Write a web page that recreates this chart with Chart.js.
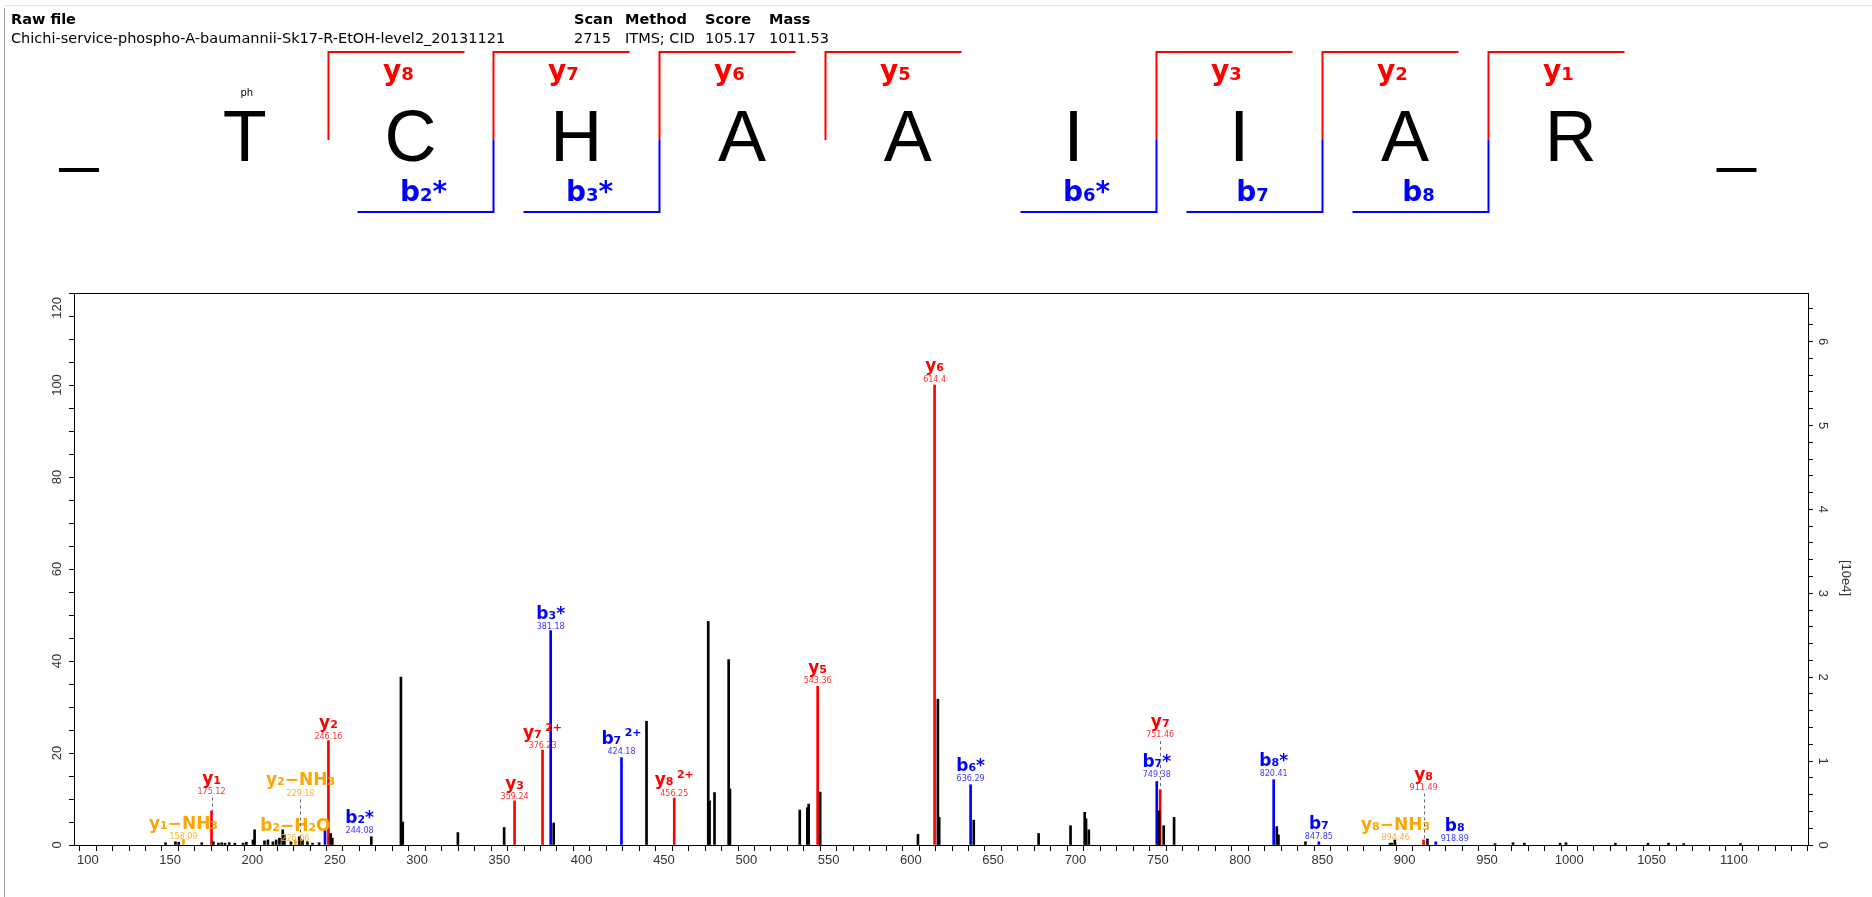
<!DOCTYPE html>
<html>
<head>
<meta charset="utf-8">
<script src="https://cdn.jsdelivr.net/npm/chart.js@4.4.0/dist/chart.umd.min.js"></script>
<style>
  html, body { margin: 0; padding: 0; background: #fff; overflow: hidden; }
  canvas { display: block; }
</style>
</head>
<body>
<canvas id="spectrum" width="1872" height="897"></canvas>
<script>
// header info
const headerNames = ['Scan', 'Method', 'Score', 'Mass']
const headerValues = ['2715', 'ITMS; CID', '105.17', '1011.53']
const rawFile = 'Chichi-service-phospho-A-baumannii-Sk17-R-EtOH-level2_20131121'

// peptide and the fragments that were found (cut k sits after residue k)
const residues = ['T', 'C', 'H', 'A', 'A', 'I', 'I', 'A', 'R']
const yCuts = ['y_8', 'y_7', 'y_6', 'y_5', '', 'y_3', 'y_2', 'y_1']
const bCuts = ['', 'b_2*', 'b_3*', '', '', 'b_6*', 'b_7', 'b_8']

// unassigned peaks (m/z, relative intensity %)
const otherMz = [147.2, 153.2, 155.2, 169.2, 176.3, 179.3, 181.3, 183.3, 185.9, 189.3, 194.3, 196.3, 200.3, 201.3,
  207.3, 209.4, 212.4, 214.4, 216.4, 218.4, 219.4, 223.4, 228.4, 230.4, 233.4, 236.5, 240.5, 247.5, 248.5,
  272.2, 290.2, 291.3, 324.8, 352.9, 383.0, 439.4, 476.9, 477.7, 480.7, 489.3, 490.1, 532.5, 537.1, 537.9,
  544.9, 604.3, 616.4, 617.2, 638.2, 677.6, 697.0, 705.6, 706.4, 708.1, 750.8, 753.6, 759.9, 822.3, 823.3,
  839.7, 891.1, 892.1, 894.0, 913.8, 954.9, 965.8, 972.7, 994.4, 998.0, 1028.0, 1047.8, 1060.3, 1069.5, 1104.0]
const otherInt = [0.5, 0.7, 0.6, 0.5, 0.7, 0.4, 0.5, 0.4, 0.5, 0.4, 0.4, 0.6, 1.1, 3.3,
  0.9, 1.1, 0.7, 1.1, 1.5, 3.3, 2.2, 0.7, 1.8, 1.1, 0.7, 0.4, 0.5, 2.5, 1.5,
  1.8, 36.5, 5.0, 2.7, 3.8, 4.8, 26.9, 48.6, 9.6, 11.4, 40.3, 12.2, 7.6, 8.1, 8.9,
  11.5, 2.3, 31.7, 6.0, 5.4, 2.5, 4.2, 7.1, 5.7, 3.3, 7.4, 4.2, 6.0, 4.0, 2.2,
  0.7, 0.4, 0.4, 1.1, 1.3, 0.3, 0.5, 0.4, 0.4, 0.5, 0.4, 0.4, 0.4, 0.3, 0.3]

// assigned peaks
const yMz = [175.12, 246.16, 359.24, 376.23, 456.25, 543.36, 614.4, 751.46, 911.49]
const yInt = [7.4, 22.7, 9.6, 20.6, 10.2, 34.5, 100, 12.0, 1.1]
const bMz = [244.08, 381.18, 424.18, 636.29, 749.38, 820.41, 847.85, 918.89]
const bInt = [3.2, 46.6, 19.0, 13.1, 13.8, 14.2, 0.7, 0.7]
const lossMz = [158.09, 226.06, 229.18, 894.46]
const lossInt = [1.2, 1.1, 1.5, 0.4]

// peak labels: name, m/z text, colour, peak m/z, label m/z, label height, dashed
const peakLabels = [
  ['y_1-NH_3', '158.09', 'loss', 158.09, 158.09, 1.8, false],
  ['y_1', '175.12', 'y', 175.12, 175.12, 11.6, true],
  ['b_2-H_2O', '226.06', 'loss', 226.06, 226.06, 1.3, false],
  ['y_2-NH_3', '229.18', 'loss', 229.18, 229.18, 11.2, true],
  ['b_2*', '244.08', 'b', 244.08, 265.1, 3.1, false],
  ['y_2', '246.16', 'y', 246.16, 246.16, 23.6, false],
  ['y_3', '359.24', 'y', 359.24, 359.24, 10.5, false],
  ['y_7^2+', '376.23', 'y', 376.23, 376.23, 21.6, false],
  ['b_3*', '381.18', 'b', 381.18, 381.18, 47.5, false],
  ['b_7^2+', '424.18', 'b', 424.18, 424.18, 20.3, false],
  ['y_8^2+', '456.25', 'y', 456.25, 456.25, 11.2, false],
  ['y_5', '543.36', 'y', 543.36, 543.36, 35.7, false],
  ['y_6', '614.4', 'y', 614.4, 614.4, 101.2, false],
  ['b_6*', '636.29', 'b', 636.29, 636.29, 14.4, false],
  ['b_7*', '749.38', 'b', 749.38, 749.38, 15.2, false],
  ['y_7', '751.46', 'y', 751.46, 751.46, 23.9, true],
  ['b_8*', '820.41', 'b', 820.41, 820.41, 15.4, false],
  ['b_7', '847.85', 'b', 847.85, 847.85, 1.8, false],
  ['y_8-NH_3', '894.46', 'loss', 894.46, 894.46, 1.6, false],
  ['y_8', '911.49', 'y', 911.49, 911.49, 12.5, true],
  ['b_8', '918.89', 'b', 918.89, 930.4, 1.3, false]
]

const COLORS = { y: '#ff0000', b: '#0000ff', loss: '#ffa500' }
const MZ_COLORS = { y: '#ff3030', b: '#3a3aff', loss: '#ffb030' }
const LABEL_FONT = '"DejaVu Sans", sans-serif'
const TICK_FONT = '"Liberation Sans", Arial, sans-serif'
const HDR_FONT = '"DejaVu Sans", sans-serif'

function points(mz, inten) {
  return mz.map((m, i) => ({ x: m, y: inten[i] }))
}

function ionRuns(text) {
  const runs = []
  for (let i = 0; i < text.length; i++) {
    const ch = text[i]
    if (ch === '_') { i++; runs.push({ t: text[i], k: 'sub' }) }
    else if (ch === '^') { runs.push({ t: text.slice(i + 1), k: 'sup' }); break }
    else runs.push({ t: ch === '-' ? '\u2212' : ch, k: 'n' })
  }
  return runs
}

// ion name with small digits, centred on cx
function drawIon(ctx, text, cx, baseline, color, size) {
  const big = `bold ${size}px ${LABEL_FONT}`
  const sm = `bold ${Math.round(size * 0.64)}px ${LABEL_FONT}`
  const runs = ionRuns(text)
  let w = 0
  runs.forEach(r => {
    ctx.font = r.k === 'n' ? big : sm
    r.pad = r.k === 'sup' ? size * 0.2 : 0
    r.w = ctx.measureText(r.t).width + r.pad
    w += r.w
  })
  let x = cx - w / 2
  ctx.fillStyle = color
  ctx.textAlign = 'left'
  ctx.textBaseline = 'alphabetic'
  runs.forEach(r => {
    ctx.font = r.k === 'n' ? big : sm
    const dy = r.k === 'sup' ? -size * 0.42 : 0
    ctx.fillText(r.t, x + r.pad, baseline + dy)
    x += r.w
  })
}

const decor = {
  id: 'decor',
  beforeDraw(chart) {
    const ctx = chart.ctx
    ctx.save()
    ctx.fillStyle = '#fff'
    ctx.fillRect(0, 0, chart.width, chart.height)

    // window edges
    ctx.strokeStyle = '#9a9a9a'
    ctx.lineWidth = 1
    ctx.beginPath()
    ctx.moveTo(4.5, 8); ctx.lineTo(4.5, 897)
    ctx.stroke()
    ctx.strokeStyle = '#e2e2e2'
    ctx.beginPath()
    ctx.moveTo(5, 5.5); ctx.lineTo(1872, 5.5)
    ctx.stroke()

    // header
    ctx.fillStyle = '#000'
    ctx.textBaseline = 'middle'
    ctx.textAlign = 'left'
    ctx.font = `bold 14.5px ${HDR_FONT}`
    ctx.fillText('Raw file', 11, 20)
    const hx = [574, 625, 705, 769]
    headerNames.forEach((n, i) => ctx.fillText(n, hx[i], 20))
    ctx.font = `14.5px ${HDR_FONT}`
    ctx.fillText(rawFile, 11, 39)
    headerValues.forEach((v, i) => ctx.fillText(v, hx[i], 39))

    // peptide sequence
    const step = 165.75, x0 = 79
    ctx.font = `72px "Liberation Sans", Arial, sans-serif`
    ctx.textAlign = 'center'
    ctx.textBaseline = 'alphabetic'
    residues.forEach((r, i) => ctx.fillText(r, x0 + step * (i + 1), 161))
    ctx.fillRect(x0 - 20, 168, 40, 4)
    ctx.fillRect(x0 + step * 10 - 20, 168, 40, 4)
    ctx.font = `10px ${LABEL_FONT}`
    ctx.fillText('ph', x0 + step + 2, 96)

    // fragment brackets
    ctx.lineWidth = 2
    for (let k = 1; k <= yCuts.length; k++) {
      const vx = Math.round(x0 + step * (k + 0.5)) + 0.5
      if (yCuts[k - 1]) {
        ctx.strokeStyle = COLORS.y
        ctx.beginPath()
        ctx.moveTo(vx, 140); ctx.lineTo(vx, 52); ctx.lineTo(vx + 136, 52)
        ctx.stroke()
        drawIon(ctx, yCuts[k - 1], vx + 70, 80, COLORS.y, 28)
      }
      if (bCuts[k - 1]) {
        ctx.strokeStyle = COLORS.b
        ctx.beginPath()
        ctx.moveTo(vx, 140); ctx.lineTo(vx, 212); ctx.lineTo(vx - 136, 212)
        ctx.stroke()
        drawIon(ctx, bCuts[k - 1], vx - 70, 201, COLORS.b, 28)
      }
    }
    ctx.restore()
  },
  afterDatasetsDraw(chart) {
    const ctx = chart.ctx
    const { x, y, y2 } = chart.scales
    const area = chart.chartArea
    ctx.save()

    // plot frame
    ctx.strokeStyle = '#000'
    ctx.lineWidth = 1
    ctx.strokeRect(Math.round(area.left) + 0.5, Math.round(area.top) + 0.5,
      Math.round(area.right - area.left), Math.round(area.bottom - area.top))

    // rotated axis labels, kept inside the frame height
    ctx.fillStyle = '#333'
    ctx.font = `13px ${TICK_FONT}`
    ctx.textAlign = 'center'
    ctx.textBaseline = 'middle'
    y.ticks.forEach(t => {
      if (t.value % 20 !== 0) return
      const half = ctx.measureText(String(t.value)).width / 2
      const py = Math.max(y.getPixelForValue(t.value), area.top + half + 4)
      ctx.save()
      ctx.translate(57, py)
      ctx.rotate(-Math.PI / 2)
      ctx.fillText(String(t.value), 0, 0)
      ctx.restore()
    })
    y2.ticks.forEach(t => {
      if (Math.abs(t.value - Math.round(t.value)) > 1e-6) return
      ctx.save()
      ctx.translate(1823, y2.getPixelForValue(t.value))
      ctx.rotate(Math.PI / 2)
      ctx.fillText(String(Math.round(t.value)), 0, 0)
      ctx.restore()
    })
    ctx.save()
    ctx.translate(1846, 578)
    ctx.rotate(Math.PI / 2)
    ctx.fillText('[10e4]', 0, 0)
    ctx.restore()

    // peak annotations
    peakLabels.forEach(([name, mzText, kind, peakMz, labelMz, labelInt, dashed]) => {
      const lx = x.getPixelForValue(labelMz)
      const ly = y.getPixelForValue(labelInt)
      if (dashed) {
        const px = Math.round(x.getPixelForValue(peakMz)) + 0.5
        const list = kind === 'y' ? yMz : kind === 'b' ? bMz : lossMz
        const ints = kind === 'y' ? yInt : kind === 'b' ? bInt : lossInt
        const top = y.getPixelForValue(ints[list.indexOf(peakMz)])
        ctx.strokeStyle = '#666'
        ctx.lineWidth = 1
        ctx.setLineDash([3, 3])
        ctx.beginPath()
        ctx.moveTo(px, ly + 6); ctx.lineTo(px, top)
        ctx.stroke()
        ctx.setLineDash([])
      }
      ctx.font = `8px ${LABEL_FONT}`
      ctx.fillStyle = MZ_COLORS[kind]
      ctx.textAlign = 'center'
      ctx.textBaseline = 'middle'
      ctx.fillText(mzText, lx, ly)
      drawIon(ctx, name, lx, ly - 8, COLORS[kind], 17)
    })
    ctx.restore()
  }
}

const ctx = document.getElementById('spectrum').getContext('2d')
new Chart(ctx, {
  type: 'bar',
  data: {
    datasets: [
      { label: 'peaks', data: points(otherMz, otherInt), backgroundColor: '#000', barThickness: 2 },
      { label: 'y ions', data: points(yMz, yInt), backgroundColor: COLORS.y, barThickness: 2 },
      { label: 'b ions', data: points(bMz, bInt), backgroundColor: COLORS.b, barThickness: 2 },
      { label: 'losses', data: points(lossMz, lossInt), backgroundColor: COLORS.loss, barThickness: 2 }
    ]
  },
  options: {
    responsive: false,
    animation: false,
    layout: { padding: { top: 293, left: 0, right: 0, bottom: 0 } },
    datasets: { bar: { grouped: false } },
    plugins: { legend: { display: false }, tooltip: { enabled: false } },
    scales: {
      x: {
        type: 'linear',
        min: 96.6,
        max: 1140,
        ticks: {
          stepSize: 10,
          includeBounds: false,
          autoSkip: false,
          maxRotation: 0,
          padding: 2,
          color: '#333',
          font: { family: TICK_FONT, size: 13 },
          callback: v => (Math.round(v) % 50 === 0 ? String(Math.round(v)) : '')
        },
        grid: { drawOnChartArea: false, tickLength: 6, color: '#000' },
        border: { color: '#000' },
        afterFit: s => { s.height = 52 }
      },
      y: {
        position: 'left',
        min: 0,
        max: 120,
        ticks: { stepSize: 5, includeBounds: false, autoSkip: false, callback: () => '' },
        grid: { drawOnChartArea: false, tickLength: 5, color: '#000' },
        border: { color: '#000' },
        afterFit: s => { s.width = 74 }
      },
      y2: {
        position: 'right',
        min: 0,
        max: 6.58,
        ticks: { stepSize: 0.2, includeBounds: false, autoSkip: false, callback: () => '' },
        grid: { drawOnChartArea: false, tickLength: 5, color: '#000' },
        border: { color: '#000' },
        afterFit: s => { s.width = 64 }
      }
    }
  },
  plugins: [decor]
})
</script>
</body>
</html>
